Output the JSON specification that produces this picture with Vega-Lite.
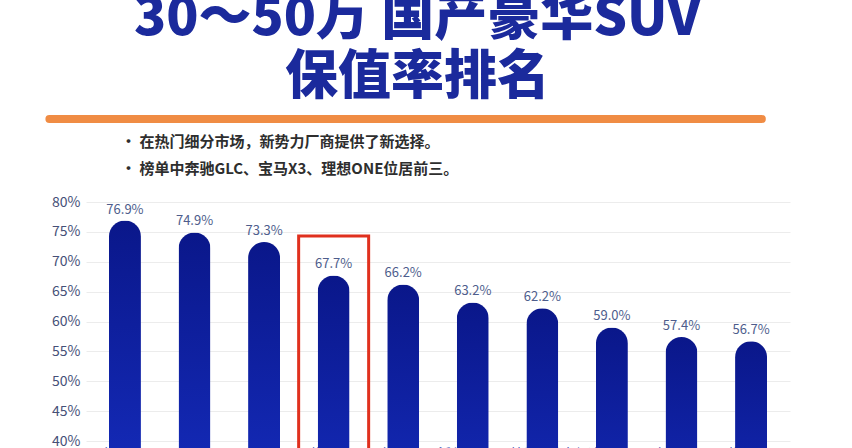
{
  "$schema": "https://vega.github.io/schema/vega-lite/v6.json",
  "background": "white",
  "padding": {"left": 45, "top": -7, "right": 10, "bottom": 0},
  "config": {
    "font": "Noto Sans CJK SC",
    "view": {"stroke": null},
    "concat": {"spacing": 12}
  },
  "title": {
    "text": ["30～50万 国产豪华SUV", "保值率排名"],
    "fontSize": 53,
    "fontWeight": 900,
    "color": "#1b2a9c",
    "lineHeight": 59,
    "anchor": "middle",
    "dy": -21,
    "offset": -11
  },
  "vconcat": [
    {
      "width": 704,
      "height": 8,
      "data": {"values": [{}]},
      "mark": {"type": "rule", "color": "#f08c44", "strokeWidth": 8, "strokeCap": "round"},
      "encoding": {
        "x": {"datum": -0.052, "type": "quantitative", "scale": {"domain": [0, 1]}, "axis": null},
        "x2": {"datum": 0.96}
      }
    },
    {
      "width": 704,
      "height": 239,
      "title": {
        "text": ["•  在热门细分市场，新势力厂商提供了新选择。", "•  榜单中奔驰GLC、宝马X3、理想ONE位居前三。"],
        "anchor": "start",
        "fontSize": 15,
        "fontWeight": "bold",
        "color": "#2e2e2e",
        "dx": 76,
        "lineHeight": 27,
        "offset": 18
      },
      "data": {
        "values": [
          {"car": "奔驰GLC", "rate": 0.769},
          {"car": "宝马X3", "rate": 0.749},
          {"car": "理想ONE", "rate": 0.733},
          {"car": "蔚来ES6", "rate": 0.677},
          {"car": "奥迪Q5L", "rate": 0.662},
          {"car": "沃尔沃XC60", "rate": 0.632},
          {"car": "林肯冒险家", "rate": 0.622},
          {"car": "凯迪拉克XT5", "rate": 0.590},
          {"car": "红旗HS5", "rate": 0.574},
          {"car": "蔚来ES8", "rate": 0.567}
        ]
      },
      "encoding": {
        "x": {
          "field": "car",
          "type": "nominal",
          "sort": null,
          "scale": {"paddingInner": 0.54, "paddingOuter": 0.33},
          "axis": {"title": null, "labelAngle": 0, "domain": false, "ticks": false, "labelPadding": 6, "labelFontSize": 13, "labelColor": "#3c4fb0"}
        },
        "y": {
          "field": "rate",
          "type": "quantitative",
          "scale": {"domain": [0.4, 0.8], "zero": false, "nice": false},
          "axis": {
            "title": null,
            "values": [0.4, 0.45, 0.5, 0.55, 0.6, 0.65, 0.7, 0.75, 0.8],
            "format": ".0%",
            "domain": false,
            "ticks": false,
            "labelFontSize": 14,
            "labelColor": "#465078",
            "labelPadding": 6,
            "minExtent": 41,
            "gridColor": "#ececec"
          }
        }
      },
      "layer": [
        {
          "mark": {
            "type": "bar",
            "width": 32,
            "cornerRadius": 16,
            "color": {
              "gradient": "linear",
              "x1": 0, "y1": 0, "x2": 0, "y2": 1,
              "stops": [
                {"offset": 0, "color": "#0a178a"},
                {"offset": 1, "color": "#1c3ade"}
              ]
            }
          }
        },
        {
          "mark": {"type": "text", "dy": -11, "fontSize": 13, "color": "#4e5d8c"},
          "encoding": {
            "text": {"field": "rate", "type": "quantitative", "format": ".1%"}
          }
        },
        {
          "transform": [{"filter": {"field": "car", "equal": "蔚来ES6"}}],
          "mark": {"type": "bar", "width": 70, "fill": "transparent", "stroke": "#e0301e", "strokeWidth": 3, "clip": false},
          "encoding": {
            "y": {"datum": 0.743, "type": "quantitative"},
            "y2": {"datum": 0.36}
          }
        }
      ]
    }
  ]
}
